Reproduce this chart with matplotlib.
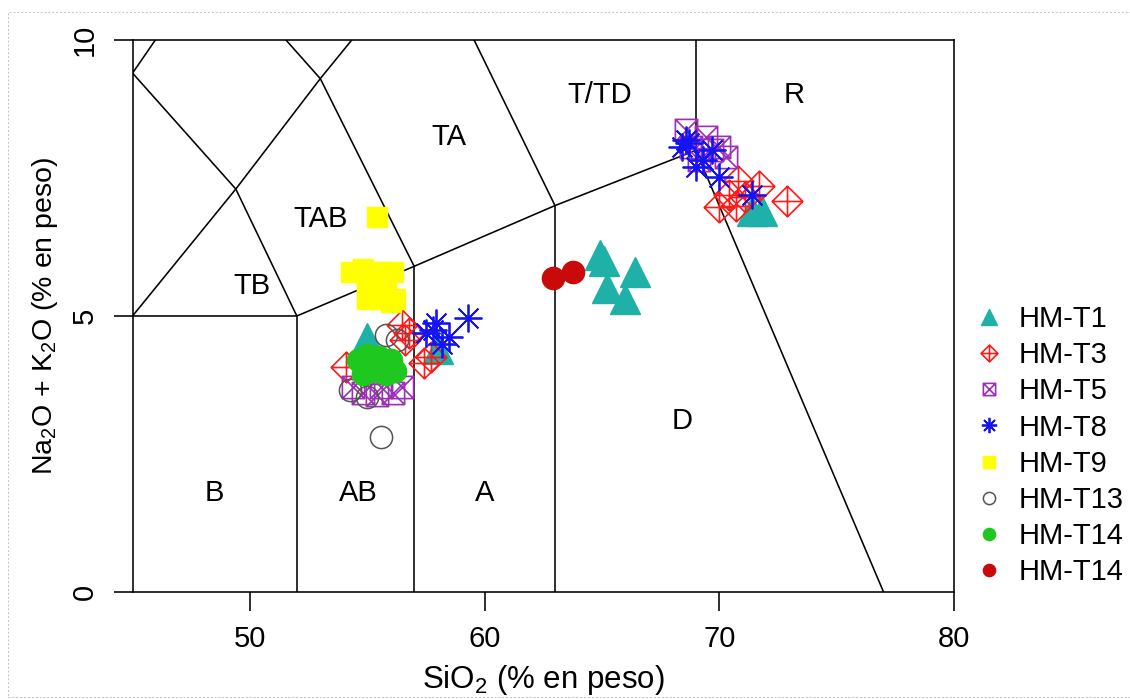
import matplotlib
matplotlib.use("Agg")
import matplotlib.pyplot as plt
from matplotlib.path import Path
from matplotlib.patches import Rectangle

plt.rcParams['font.family'] = ['Liberation Sans', 'DejaVu Sans']
plt.rcParams['mathtext.default'] = 'regular'

# muestras (SiO2, Na2O + K2O)
t1_sio2 = [55.0, 58.0, 64.9, 65.1, 66.4, 65.2, 66.0, 71.4, 71.8]
t1_alk = [4.6, 4.4, 6.1, 6.0, 5.8, 5.5, 5.3, 6.9, 6.9]

t3_sio2 = [54.1, 56.5, 56.8, 57.4, 57.7, 56.6, 70.0, 70.4, 70.8, 71.1, 71.7, 72.9, 70.7]
t3_alk = [4.08, 4.84, 4.7, 4.14, 4.26, 4.56, 6.98, 7.2, 7.45, 7.15, 7.35, 7.08, 7.0]

t5_sio2 = [54.4, 54.8, 55.4, 55.6, 56.1, 56.5, 68.6, 69.45, 70.0, 70.3, 68.8, 69.15, 69.7]
t5_alk = [3.72, 3.6, 3.57, 3.72, 3.6, 3.72, 8.37, 8.24, 8.06, 7.88, 8.06, 7.83, 8.0]

t8_sio2 = [57.5, 57.8, 57.95, 58.2, 58.5, 59.3, 68.4, 68.6, 68.7, 69.0, 69.3, 69.7, 70.0, 71.4]
t8_alk = [4.7, 4.75, 4.87, 4.5, 4.62, 4.96, 8.06, 8.19, 8.13, 7.7, 7.83, 8.0, 7.52, 7.19]

t9_sio2 = [55.4, 54.3, 54.8, 55.3, 55.8, 56.1, 55.0, 55.5, 55.8, 55.0, 55.5, 56.0, 56.2]
t9_alk = [6.8, 5.8, 5.85, 5.8, 5.8, 5.8, 5.55, 5.55, 5.6, 5.3, 5.3, 5.25, 5.3]

t13_sio2 = [55.6, 55.8, 56.25, 54.25, 55.0]
t13_alk = [2.81, 4.65, 4.56, 3.66, 3.53]

t14_sio2 = [54.6, 55.0, 55.5, 56.0, 54.8, 55.3, 55.8, 56.2, 55.2]
t14_alk = [4.2, 4.3, 4.25, 4.2, 3.95, 4.0, 3.95, 4.0, 4.15]

t14b_sio2 = [62.9, 63.75]
t14b_alk = [5.69, 5.8]

# campos del diagrama TAS (Le Bas et al., 1986)
tas_lines = [
    [(52, 0), (52, 5)],
    [(57, 0), (57, 5.9)],
    [(63, 0), (63, 7)],
    [(69, 8), (69, 10)],
    [(45, 5), (52, 5), (57, 5.9), (63, 7), (69, 8), (77, 0)],
    [(45, 5), (49.4, 7.3), (53, 9.3), (57.6, 11.7)],
    [(52, 5), (49.4, 7.3), (45, 9.4), (48.4, 11.5)],
    [(57, 5.9), (53, 9.3), (48.4, 11.5)],
    [(63, 7), (57.6, 11.7)],
]
field_names = ['B', 'AB', 'A', 'D', 'TB', 'TAB', 'TA', 'T/TD', 'R']
field_x = [48.5, 54.6, 60.0, 68.4, 50.1, 53.0, 58.5, 64.9, 73.2]
field_y = [1.8, 1.8, 1.8, 3.1, 5.55, 6.75, 8.25, 9.0, 9.0]

M, L, C = Path.MOVETO, Path.LINETO, Path.CLOSEPOLY
diamond_plus = Path([(0, 1), (1, 0), (0, -1), (-1, 0), (0, 1), (0, 1), (0, -1), (-1, 0), (1, 0)],
                    [M, L, L, L, C, M, L, M, L])
square_cross = Path([(-1, -1), (1, -1), (1, 1), (-1, 1), (-1, -1), (-1, -1), (1, 1), (-1, 1), (1, -1)],
                    [M, L, L, L, C, M, L, M, L])

fig = plt.figure(figsize=(11.3, 6.99), dpi=100)
ax = fig.add_axes([0.1173, 0.1531, 0.7269, 0.7897])

for seg in tas_lines:
    xs, ys = zip(*seg)
    ax.plot(xs, ys, color='black', lw=1.15, zorder=1)

for name, fx, fy in zip(field_names, field_x, field_y):
    ax.text(fx, fy, name, fontsize=21, ha='center', va='center', zorder=1)

ax.plot(t1_sio2, t1_alk, ls='none', marker='^', ms=21, color='#1fb0a8', label='HM-T1', zorder=3)
ax.plot(t3_sio2, t3_alk, ls='none', marker=diamond_plus, ms=22, mfc='none', mec='#ff1a1a', mew=1.2,
        label='HM-T3', zorder=3)
ax.plot(t5_sio2, t5_alk, ls='none', marker=square_cross, ms=16, mfc='none', mec='#9c2fb5', mew=1.2,
        label='HM-T5', zorder=3)
ax.plot(t8_sio2, t8_alk, ls='none', marker=(8, 2, 0), ms=20, color='#1414f0', mew=1.3,
        label='HM-T8', zorder=3)
ax.plot(t9_sio2, t9_alk, ls='none', marker='s', ms=15, color='#ffff00', label='HM-T9', zorder=3)
ax.plot(t13_sio2, t13_alk, ls='none', marker='o', ms=16, mfc='none', mec='#555555', mew=1.1,
        label='HM-T13', zorder=3)
ax.plot(t14_sio2, t14_alk, ls='none', marker='o', ms=16, color='#1ec81e', label='HM-T14', zorder=3)
ax.plot(t14b_sio2, t14b_alk, ls='none', marker='o', ms=16, color='#c80a0a', label='HM-T14', zorder=3)

ax.set_xlim(45, 80)
ax.set_ylim(0, 10)
ax.set_xticks([50, 60, 70, 80])
ax.set_yticks([0, 5, 10])
for sp in ax.spines.values():
    sp.set_linewidth(1.15)
ax.tick_params(length=14, width=1.15, pad=10, labelsize=21)
for lab in ax.get_yticklabels():
    lab.set_rotation(90)
    lab.set_va('center')

ax.set_xlabel('SiO$_2$ (% en peso)', fontsize=22.5, labelpad=7)
ax.set_ylabel('Na$_2$O + K$_2$O (% en peso)', fontsize=20.5, labelpad=8)

ax.legend(loc='center left', bbox_to_anchor=(1.027, 0.265), frameon=False, fontsize=21,
          markerscale=0.55, handlelength=0.9, handletextpad=0.55, labelspacing=0.28,
          borderpad=0, borderaxespad=0)

fig.patches.append(Rectangle((0.007, 0.003), 1.1, 0.98, transform=fig.transFigure,
                             fill=False, ls=(0, (2, 2)), lw=0.7, ec='#c0c0c0'))

fig.savefig('out.png', dpi=100)
